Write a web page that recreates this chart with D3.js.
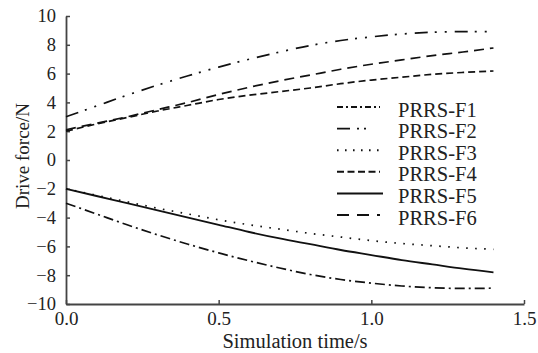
<!DOCTYPE html>
<html><head><meta charset="utf-8">
<script src="https://cdn.jsdelivr.net/npm/d3@7"></script>
<style>html,body{margin:0;padding:0;background:#fff;}</style>
</head>
<body><svg id="c" width="538" height="353"></svg>
<script>
const time = [0,0.1,0.2,0.3,0.4,0.5,0.6,0.7,0.8,0.9,1.0,1.1,1.2,1.3,1.4];
const F1 = [-3.0,-3.75,-4.5,-5.2,-5.85,-6.45,-7.0,-7.5,-7.95,-8.3,-8.55,-8.75,-8.87,-8.92,-8.9];
const F2 = [3.0,3.75,4.5,5.2,5.85,6.45,7.0,7.5,7.95,8.3,8.55,8.75,8.87,8.92,8.92];
const F3 = [-2.0,-2.45,-2.9,-3.35,-3.75,-4.15,-4.5,-4.8,-5.1,-5.35,-5.6,-5.8,-5.95,-6.1,-6.2];
const F4 = [2.0,2.5,2.95,3.4,3.8,4.2,4.5,4.75,5.0,5.3,5.55,5.75,5.95,6.08,6.18];
const F5 = [-2.0,-2.5,-3.0,-3.5,-4.0,-4.5,-5.0,-5.45,-5.85,-6.25,-6.6,-6.95,-7.25,-7.55,-7.8];
const F6 = [2.1,2.55,3.0,3.5,4.0,4.55,5.05,5.5,5.9,6.3,6.65,6.95,7.25,7.5,7.78];
const seriesNames = ["PRRS-F1","PRRS-F2","PRRS-F3","PRRS-F4","PRRS-F5","PRRS-F6"];
const xTicks = [0,0.5,1.0,1.5];
const yTicks = [-10,-8,-6,-4,-2,0,2,4,6,8,10];

const series = [F1,F2,F3,F4,F5,F6];
const dashes = ["10,4,2,4","13,7,2,8,2,8","1.6,7.4","7,4",null,"10,6"];
const legDashes = ["6,3,2,3","13,7,2,5,2,20","1.6,6.4","7,3.5",null,"12,8"];
const FONT = "'Liberation Serif', 'Times New Roman', serif";

const svg = d3.select("#c");
const x = d3.scaleLinear().domain([0,1.5]).range([66,524]);
const y = d3.scaleLinear().domain([-10,10]).range([304,16]);
const axisColor = "#444";

const gx = svg.append("g").attr("transform","translate(0,304)")
  .call(d3.axisBottom(x).tickValues(xTicks).tickFormat(d3.format(".1f")).tickSizeInner(-4).tickSizeOuter(0).tickPadding(8));
gx.select(".domain").attr("stroke",axisColor).attr("stroke-width",1.8);
gx.selectAll(".tick line").attr("stroke",axisColor).attr("stroke-width",1.5);
gx.selectAll(".tick text").style("font-family",FONT).style("font-size","19px").attr("fill","#222");

const gy = svg.append("g").attr("transform","translate(66,0)")
  .call(d3.axisLeft(y).tickValues(yTicks).tickFormat(d3.format("d")).tickSizeInner(-4).tickSizeOuter(0).tickPadding(10));
gy.select(".domain").attr("stroke",axisColor).attr("stroke-width",1.8);
gy.selectAll(".tick line").attr("stroke",axisColor).attr("stroke-width",1.5);
gy.selectAll(".tick text").style("font-family",FONT).style("font-size","18.5px").attr("fill","#222");

svg.append("text").attr("x",295).attr("y",348).attr("text-anchor","middle")
  .style("font-family",FONT).style("font-size","20.5px").attr("fill","#222").text("Simulation time/s");
svg.append("text").attr("transform","translate(29,156) rotate(-90)").attr("text-anchor","middle")
  .style("font-family",FONT).style("font-size","19px").attr("fill","#222").text("Drive force/N");

const line = d3.line().x((d,i)=>x(time[i])).y(d=>y(d)).curve(d3.curveMonotoneX);
series.forEach((s,k)=>{
  svg.append("path").datum(s).attr("d",line).attr("fill","none")
    .attr("stroke","#111").attr("stroke-width",k===4?1.8:1.7)
    .attr("stroke-dasharray",dashes[k]);
});

const legY = d3.scaleLinear().domain([0,5]).range([110,218]);
seriesNames.forEach((n,k)=>{
  const cy = legY(k);
  svg.append("line").attr("x1",337).attr("x2",k===4?383:380)
    .attr("y1",cy-3).attr("y2",cy-3).attr("stroke","#111").attr("stroke-width",k===4?2:1.9)
    .attr("stroke-dasharray",legDashes[k]);
  svg.append("text").attr("x",398).attr("y",cy+6.5)
    .style("font-family",FONT).style("font-size","20.5px").attr("fill","#222").text(n);
});
</script></body></html>
